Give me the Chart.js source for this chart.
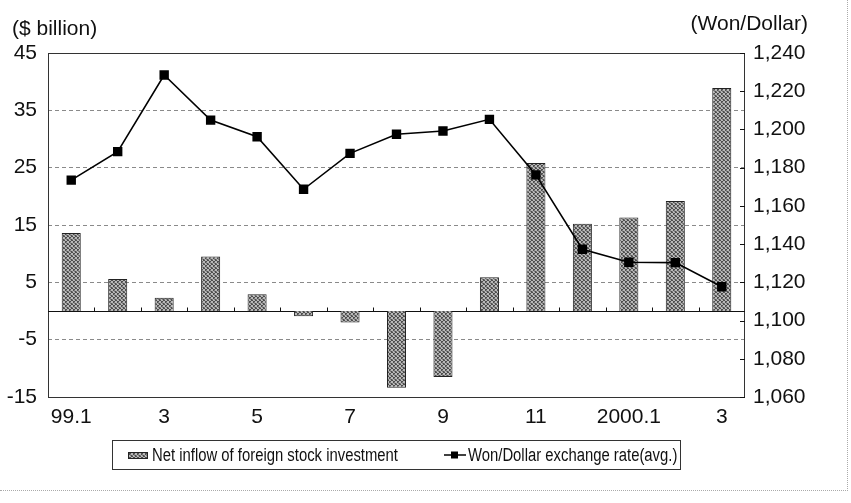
<!DOCTYPE html>
<html>
<head>
<meta charset="utf-8">
<title>Net inflow of foreign stock investment and Won/Dollar rate</title>
<script src="https://cdn.jsdelivr.net/npm/chart.js@4.4.1/dist/chart.umd.min.js"></script>
<style>
  body { margin: 0; background: #fff; }
  #wrap { position: relative; width: 851px; height: 503px; font-family: "Liberation Sans", Arial, sans-serif; color: #111; }
  #scan { position: absolute; left: 0; top: 0; width: 847px; height: 490px; border-right: 1px dotted #aaa; border-bottom: 1px dotted #aaa; }
  .unit { position: absolute; font-size: 21px; line-height: 24px; }
  #unitL { left: 12px; top: 16px; }
  #unitR { right: 43px; top: 11px; }
  #legend { position: absolute; left: 112px; top: 440px; width: 567px; height: 28px; border: 1px solid #333;
            font-size: 18px; line-height: 28px; white-space: nowrap; }
  #legend span { position: absolute; top: 0; transform: scaleX(0.825); transform-origin: 0 50%; }
  #legend canvas { position: absolute; }
</style>
</head>
<body>
<div id="wrap">
  <div id="scan"></div>
  <canvas id="c" width="851" height="503"></canvas>
  <div class="unit" id="unitL">($ billion)</div>
  <div class="unit" id="unitR">(Won/Dollar)</div>
  <div id="legend">
    <canvas id="icBar" width="20" height="7" style="left:15px; top:11px;"></canvas>
    <span style="left:39px;">Net inflow of foreign stock investment</span>
    <canvas id="icLine" width="22" height="10" style="left:331px; top:9px;"></canvas>
    <span style="left:355px;">Won/Dollar exchange rate(avg.)</span>
  </div>
</div>
<script>
// months: Jan 1999 - Mar 2000
const months = ['99.1', '2', '3', '4', '5', '6', '7', '8', '9', '10', '11', '12', '2000.1', '2', '3'];
// net inflow of foreign stock investment ($ billion)
const netInflow = [13.6, 5.6, 2.3, 9.5, 2.9, -0.9, -2.0, -13.4, -11.5, 5.9, 25.8, 15.2, 16.3, 19.2, 38.9];
// won/dollar exchange rate, monthly average
const wonDollar = [1173.5, 1188.4, 1228.5, 1204.9, 1196.2, 1168.7, 1187.5, 1197.5, 1199.2, 1205.3, 1176.2, 1137.3, 1130.5, 1130.3, 1117.7];
const leftTicks = [-15, -5, 5, 15, 25, 35, 45];
const rightTicks = [1060, 1080, 1100, 1120, 1140, 1160, 1180, 1200, 1220, 1240];

const tickFont = { family: '"Liberation Sans", Arial, sans-serif', size: 21 };

// stippled grey like the printed bars
function makeStipple() {
  const p = document.createElement('canvas');
  p.width = 4; p.height = 4;
  const g = p.getContext('2d');
  g.fillStyle = '#b8b8b8';
  g.fillRect(0, 0, 4, 4);
  g.fillStyle = '#4e4e4e';
  [[0,0],[2,1],[1,2],[3,3],[3,0],[1,1]].forEach(([x, y]) => g.fillRect(x, y, 1, 1));
  g.fillStyle = '#808080';
  [[2,3],[0,3],[2,2]].forEach(([x, y]) => g.fillRect(x, y, 1, 1));
  return p;
}
const stippleCanvas = makeStipple();
const stipple = document.createElement('canvas').getContext('2d').createPattern(stippleCanvas, 'repeat');

// legend icons
(function () {
  const b = document.getElementById('icBar').getContext('2d');
  b.fillStyle = b.createPattern(stippleCanvas, 'repeat');
  b.fillRect(0, 0, 20, 7);
  b.strokeStyle = '#222';
  b.strokeRect(0.5, 0.5, 19, 6);
  const l = document.getElementById('icLine').getContext('2d');
  l.strokeStyle = '#000'; l.lineWidth = 1.5;
  l.beginPath(); l.moveTo(0, 5); l.lineTo(22, 5); l.stroke();
  l.fillStyle = '#000'; l.fillRect(7, 1.5, 7, 7);
})();

const frame = {
  id: 'frame',
  beforeDatasetsDraw(chart) {
    const { ctx, chartArea: a, scales } = chart;
    ctx.save();
    ctx.strokeStyle = '#333';
    ctx.lineWidth = 1;
    ctx.strokeRect(a.left + 0.5, a.top + 0.5, a.right - a.left - 1, a.bottom - a.top);
    const y0 = Math.round(scales.y.getPixelForValue(0)) + 0.5;
    ctx.strokeStyle = '#111';
    ctx.beginPath(); ctx.moveTo(a.left, y0); ctx.lineTo(a.right, y0); ctx.stroke();
    // small category ticks on the zero line
    const x = scales.x;
    ctx.beginPath();
    for (let i = 0; i < months.length - 1; i++) {
      const bx = Math.round((x.getPixelForValue(i) + x.getPixelForValue(i + 1)) / 2) + 0.5;
      ctx.moveTo(bx, y0); ctx.lineTo(bx, y0 - 4);
    }
    // inward ticks on right axis
    rightTicks.forEach(v => {
      const ty = Math.round(scales.y1.getPixelForValue(v)) + 0.5;
      ctx.moveTo(a.right - 5, ty); ctx.lineTo(a.right, ty);
    });
    ctx.stroke();
    ctx.restore();
  }
};

new Chart(document.getElementById('c'), {
  data: {
    labels: months,
    datasets: [
      {
        type: 'line',
        label: 'Won/Dollar exchange rate(avg.)',
        data: wonDollar,
        yAxisID: 'y1',
        borderColor: '#000',
        borderWidth: 1.6,
        pointStyle: 'rect',
        pointRadius: 5.5,
        pointBackgroundColor: '#000',
        pointBorderColor: '#000',
        tension: 0,
        order: 0
      },
      {
        type: 'bar',
        label: 'Net inflow of foreign stock investment',
        data: netInflow,
        yAxisID: 'y',
        backgroundColor: stipple,
        borderColor: '#222',
        borderWidth: 1,
        categoryPercentage: 1,
        barPercentage: 0.41,
        order: 1
      }
    ]
  },
  options: {
    responsive: false,
    devicePixelRatio: 1,
    animation: false,
    layout: { padding: { top: 53, bottom: 76, left: 0, right: 0 } },
    plugins: { legend: { display: false }, tooltip: { enabled: false } },
    scales: {
      x: {
        grid: { display: false, drawTicks: false },
        border: { display: false },
        ticks: {
          autoSkip: false, maxRotation: 0, padding: 8, color: '#111', font: tickFont,
          callback: (v, i) => (i % 2 === 0 ? months[i] : '')
        },
        afterFit: s => { s.height = 30; }
      },
      y: {
        position: 'left',
        min: -15, max: 45,
        afterBuildTicks: s => { s.ticks = leftTicks.map(v => ({ value: v })); },
        grid: {
          drawTicks: false,
          color: c => ([45, -15, 0].includes(c.tick.value) ? 'rgba(0,0,0,0)' : '#8a8a8a'),
          lineWidth: 1
        },
        border: { display: false, dash: [4, 3] },
        ticks: { padding: 11, color: '#111', font: tickFont },
        afterFit: s => { s.width = 48; }
      },
      y1: {
        position: 'right',
        min: 1060, max: 1240,
        afterBuildTicks: s => { s.ticks = rightTicks.map(v => ({ value: v })); },
        grid: { drawOnChartArea: false, drawTicks: false },
        border: { display: false },
        ticks: { padding: 8, color: '#111', font: tickFont, callback: v => v.toLocaleString('en-US') },
        afterFit: s => { s.width = 106; }
      }
    }
  },
  plugins: [frame]
});
</script>
</body>
</html>
